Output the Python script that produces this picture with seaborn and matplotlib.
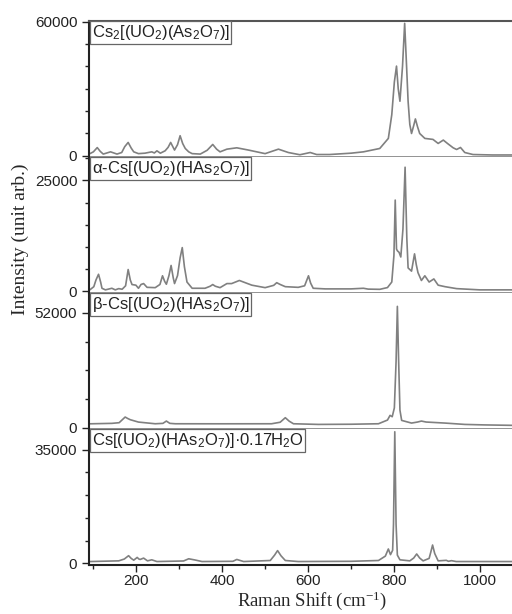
import numpy as np
import pandas as pd
import matplotlib
matplotlib.use('Agg')
import matplotlib.pyplot as plt
from matplotlib.ticker import MultipleLocator
import seaborn as sns

# spectra as (Raman shift, intensity) points
cs2_pts = [(92, 1000), (100, 1800), (109, 3700), (116, 2000), (123, 800), (140, 1800),
           (155, 800), (166, 1500), (173, 4100), (181, 6000), (188, 3500), (194, 1800),
           (205, 1000), (220, 1200), (236, 1800), (242, 1300), (248, 2250), (256, 1200),
           (267, 2250), (274, 3800), (280, 6000), (289, 2600), (296, 5000), (302, 9000),
           (308, 5500), (314, 3300), (322, 1800), (330, 1000), (349, 800), (365, 2500),
           (378, 5100), (387, 3000), (395, 1800), (411, 3000), (434, 3600), (461, 2600),
           (500, 1000), (531, 3000), (554, 1500), (581, 500), (605, 1500), (620, 600),
           (650, 600), (700, 1200), (729, 1800), (767, 3300), (787, 7800), (795, 18400),
           (801, 33000), (806, 40100), (810, 30000), (814, 24400), (820, 40000), (825, 59200),
           (829, 42000), (833, 24400), (837, 14000), (841, 10000), (846, 13500), (850, 16500),
           (855, 13000), (860, 10000), (872, 7800), (891, 7350), (903, 5550), (915, 7050),
           (925, 5500), (938, 3600), (946, 2850), (955, 3750), (965, 1500), (984, 600),
           (1030, 400), (1075, 400)]

alpha_pts = [(92, 300), (101, 1000), (106, 2500), (112, 3800), (117, 2000), (120, 640),
             (128, 280), (143, 640), (151, 280), (159, 560), (167, 420), (175, 1200),
             (181, 4870), (186, 2500), (190, 1480), (199, 1340), (205, 640), (211, 1500),
             (217, 1700), (225, 850), (244, 780), (255, 1500), (261, 3460), (266, 2200),
             (270, 1550), (276, 3500), (281, 5790), (286, 3000), (289, 1700), (296, 3500),
             (302, 7500), (307, 9820), (312, 5500), (318, 2050), (330, 640), (360, 640),
             (372, 1100), (378, 1480), (384, 1100), (395, 780), (411, 1700), (422, 1700),
             (440, 2400), (469, 1340), (500, 780), (520, 1300), (527, 1900), (535, 1500),
             (547, 1000), (577, 850), (592, 1200), (601, 3460), (606, 1800), (612, 640),
             (640, 500), (700, 500), (729, 640), (740, 450), (767, 400), (785, 800),
             (795, 2050), (800, 8050), (803, 20550), (806, 9500), (808, 9110), (812, 8750),
             (816, 7700), (821, 14000), (826, 27970), (830, 12000), (833, 5230), (841, 4510),
             (848, 8410), (852, 6000), (856, 4170), (864, 2400), (872, 3460), (882, 2050),
             (893, 2750), (903, 1340), (919, 1000), (946, 560), (1000, 280), (1075, 280)]

beta_pts = [(92, 1800), (143, 2000), (160, 2300), (174, 4860), (180, 4200), (186, 3650),
            (205, 2580), (244, 1820), (262, 2000), (270, 3040), (278, 2000), (291, 1820),
            (391, 1800), (515, 1820), (535, 2500), (547, 4560), (556, 3000), (566, 1820),
            (624, 1520), (700, 1600), (764, 1820), (785, 3500), (791, 5620), (796, 5000),
            (801, 9000), (805, 30000), (808, 55000), (811, 30000), (814, 8000), (818, 3340),
            (841, 2130), (855, 2600), (864, 3040), (875, 2600), (919, 2130), (965, 1520),
            (1010, 1300), (1075, 1100)]

hyd_pts = [(92, 530), (159, 740), (172, 1300), (182, 2330), (188, 1500), (194, 950),
           (202, 1800), (206, 1300), (209, 1170), (217, 1590), (226, 740), (236, 1060),
           (248, 530), (310, 700), (322, 1380), (337, 1000), (353, 530), (425, 600),
           (434, 1170), (450, 530), (512, 850), (522, 2500), (529, 3900), (537, 2300),
           (547, 850), (577, 530), (700, 600), (764, 850), (780, 2200), (787, 4400),
           (792, 2650), (797, 4000), (799, 12000), (802, 40500), (805, 12000), (808, 2500),
           (814, 1060), (837, 740), (846, 1600), (853, 2860), (860, 1600), (868, 740),
           (882, 1500), (886, 3500), (890, 5620), (895, 3000), (903, 740), (922, 900),
           (927, 600), (934, 800), (945, 530), (1075, 530)]

names = [r'Cs$\mathregular{_2}$[(UO$\mathregular{_2}$)(As$\mathregular{_2}$O$\mathregular{_7}$)]',
         r'α-Cs[(UO$\mathregular{_2}$)(HAs$\mathregular{_2}$O$\mathregular{_7}$)]',
         r'β-Cs[(UO$\mathregular{_2}$)(HAs$\mathregular{_2}$O$\mathregular{_7}$)]',
         r'Cs[(UO$\mathregular{_2}$)(HAs$\mathregular{_2}$O$\mathregular{_7}$)]·0.17H$\mathregular{_2}$O']
top_ticks = [60000, 25000, 52000, 35000]
minor_step = [10000, 5000, 13000, 7000]
ylims = [(-450, 60300), (-400, 30300), (-500, 61100), (-500, 41400)]

sns.set_style('ticks')
plt.rcParams['font.family'] = ['Liberation Sans', 'DejaVu Sans']
plt.rcParams['font.size'] = 11

fig, axes = plt.subplots(4, 1, sharex=True, figsize=(5.12, 6.14), dpi=100,
                         gridspec_kw={'hspace': 0})
fig.subplots_adjust(left=0.174, right=1.0, top=0.966, bottom=0.08)

for i, (ax, pts) in enumerate(zip(axes, [cs2_pts, alpha_pts, beta_pts, hyd_pts])):
    df = pd.DataFrame(pts, columns=['shift', 'intensity'])
    sns.lineplot(data=df, x='shift', y='intensity', ax=ax, color='#808080', lw=1.2)
    ax.set_ylim(*ylims[i])
    ax.set_xlim(90, 1075)
    ax.set_yticks([0, top_ticks[i]])
    ax.yaxis.set_minor_locator(MultipleLocator(minor_step[i]))
    ax.tick_params(axis='y', which='major', length=5, width=1, labelsize=11, colors='#222222')
    ax.tick_params(axis='y', which='minor', length=3, width=1, color='#222222')
    ax.set_ylabel('')
    ax.set_xlabel('')
    ax.spines['right'].set_visible(False)
    ax.spines['left'].set_linewidth(1.5)
    ax.spines['left'].set_color('#222222')
    if i > 0:
        ax.spines['top'].set_visible(False)
    else:
        ax.spines['top'].set_color('#555555')
        ax.spines['top'].set_linewidth(1.5)
    if i < 3:
        ax.spines['bottom'].set_color('#8a8a8a')
        ax.spines['bottom'].set_linewidth(1.3)
        ax.tick_params(axis='x', which='both', bottom=False)
    else:
        ax.spines['bottom'].set_color('#222222')
        ax.spines['bottom'].set_linewidth(1.5)
    ax.text(0.006, 0.985, names[i], transform=ax.transAxes, ha='left', va='top',
            fontsize=12, color='#222222',
            bbox=dict(boxstyle='square,pad=0.1', fc='white', ec='#666666', lw=0.9))

bx = axes[-1]
bx.set_xticks([200, 400, 600, 800, 1000])
bx.xaxis.set_minor_locator(MultipleLocator(100))
bx.tick_params(axis='x', which='major', length=5, width=1, labelsize=11, colors='#222222',
               pad=1.5)
bx.tick_params(axis='x', which='minor', length=3, width=1, color='#222222')

fig.text(0.04, 0.61, 'Intensity (unit arb.)', rotation=90, ha='center', va='center',
         fontsize=14, family='Liberation Serif')
fig.text(0.61, 0.021, r'Raman Shift (cm$\mathregular{^{-1}}$)', ha='center', va='center',
         fontsize=13.5, family='Liberation Serif')

fig.savefig('out.png', dpi=100)
